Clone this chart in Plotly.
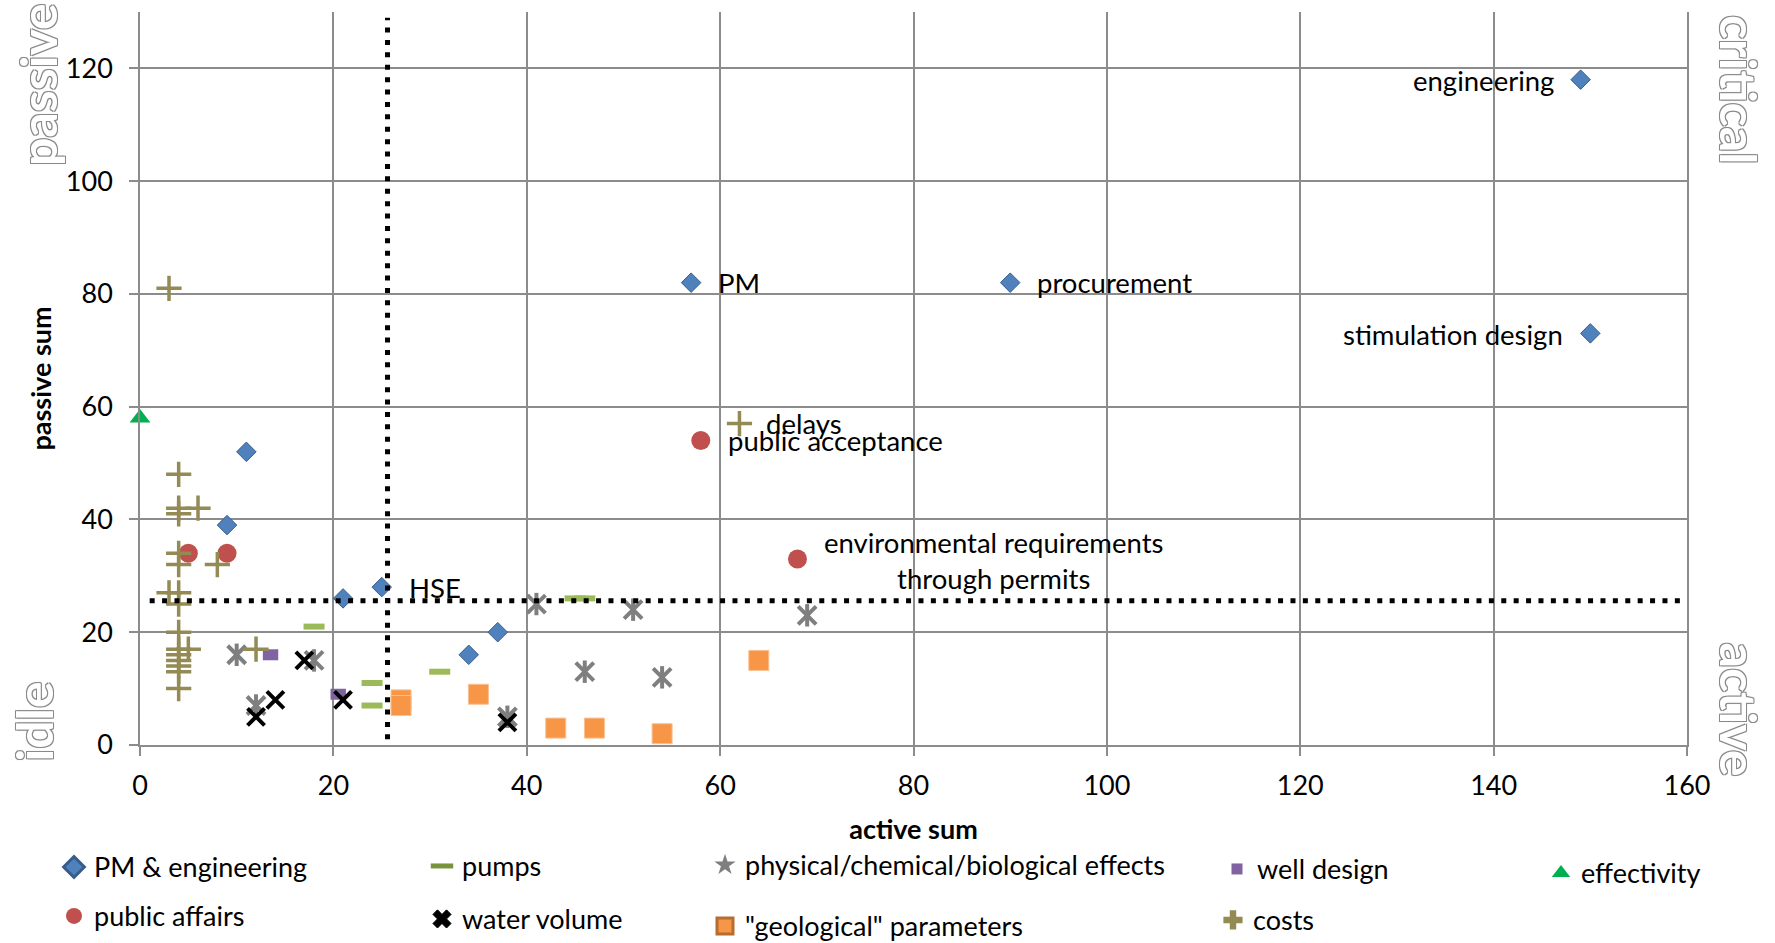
import plotly.graph_objects as go

# ---------------- data ----------------
threshold = 25.6  # quadrant border (active & passive)

pm_x = [149, 57, 90, 150, 11, 9, 21, 25, 34, 37]
pm_y = [118, 82, 82, 73, 52, 39, 26, 28, 16, 20]
pm_lab = ["engineering", "PM", "procurement", "stimulation design", "", "", "", "HSE", "", ""]

pa_x = [5, 9, 58, 68]
pa_y = [34, 34, 54, 33]
pa_lab = ["", "", "public acceptance", "environmental requirements<br>through permits"]

pumps_x = [18, 24, 24, 31, 45, 46]
pumps_y = [21, 11, 7, 13, 26, 26]

water_x = [12, 14, 17, 21, 38]
water_y = [5, 8, 15, 8, 4]

phys_x = [10, 18, 12, 41, 51, 69, 46, 54, 38]
phys_y = [16, 15, 7, 25, 24, 23, 13, 12, 5]

geo_x = [27, 27, 35, 43, 47, 54, 64]
geo_y = [8, 7, 9, 3, 3, 2, 15]

well_x = [13.5, 20.5]
well_y = [16, 9]

cost_x = [3, 62, 4, 4, 4, 6, 4, 4, 8, 3, 4, 4, 4, 4, 5, 4, 4, 4, 4, 12, 4]
cost_y = [81, 57, 48, 42, 41, 42, 34, 32, 32, 27, 27, 25, 20, 17, 17, 16, 15, 14, 13, 17, 10]
cost_lab = ["", "delays"] + [""] * 19

eff_x = [0]
eff_y = [58]

x_ticks = [0, 20, 40, 60, 80, 100, 120, 140, 160]
y_ticks = [0, 20, 40, 60, 80, 100, 120]

# ---------------- styling ----------------
FONT = "Lato"
BLUE, BLUE_D = "#4F81BD", "#385D8A"
RED = "#C0504D"
GREEN = "#9BBB59"
PURPLE = "#8064A2"
ORANGE = "#F79646"
GRAY = "#7F7F7F"
OLIVE = "#948A54"
EFF = "#00B050"
GRID = "#8c8c8c"

fig = go.Figure()

# chart traces
fig.add_trace(go.Scatter(x=pm_x, y=pm_y, mode="markers", showlegend=False, cliponaxis=False,
                         marker=dict(symbol="diamond", size=15, color=BLUE, line=dict(color=BLUE_D, width=1))))
fig.add_trace(go.Scatter(x=pa_x, y=pa_y, mode="markers", showlegend=False, cliponaxis=False,
                         marker=dict(symbol="circle", size=19, color=RED, line=dict(width=0))))
fig.add_trace(go.Scatter(x=pumps_x, y=pumps_y, mode="markers", showlegend=False, cliponaxis=False,
                         marker=dict(symbol="line-ew-open", size=15, color=GREEN, line=dict(color=GREEN, width=6))))
fig.add_trace(go.Scatter(x=well_x, y=well_y, mode="markers", showlegend=False, cliponaxis=False,
                         marker=dict(symbol="line-ew-open", size=11, color=PURPLE, line=dict(color=PURPLE, width=11))))
fig.add_trace(go.Scatter(x=geo_x, y=geo_y, mode="markers", showlegend=False, cliponaxis=False,
                         marker=dict(symbol="square", size=20, color=ORANGE, line=dict(color="#FAC090", width=1))))
# star marker: an X with a vertical bar through it
fig.add_trace(go.Scatter(x=phys_x, y=phys_y, mode="markers", showlegend=False, cliponaxis=False,
                         marker=dict(symbol="x-thin-open", size=18, color=GRAY, line=dict(color=GRAY, width=4))))
fig.add_trace(go.Scatter(x=phys_x, y=phys_y, mode="markers", showlegend=False, cliponaxis=False,
                         marker=dict(symbol="line-ns-open", size=16, color=GRAY, line=dict(color=GRAY, width=4))))
fig.add_trace(go.Scatter(x=water_x, y=water_y, mode="markers", showlegend=False, cliponaxis=False,
                         marker=dict(symbol="x-thin-open", size=17, color="black", line=dict(color="black", width=4))))
fig.add_trace(go.Scatter(x=cost_x, y=cost_y, mode="markers", showlegend=False, cliponaxis=False,
                         marker=dict(symbol="cross-thin-open", size=18, color=OLIVE, line=dict(color=OLIVE, width=3.5))))
fig.add_trace(go.Scatter(x=eff_x, y=eff_y, mode="markers", showlegend=False, cliponaxis=False,
                         marker=dict(symbol="triangle-up", size=18, color=EFF, line=dict(width=0))))

# legend-only entries
legend_items = [
    ("PM & engineering", dict(symbol="diamond", size=16, color=BLUE, line=dict(color=BLUE_D, width=3)), 94, 868),
    ("public affairs", dict(symbol="circle", size=16, color=RED, line=dict(width=0)), 94, 917),
    ("pumps", dict(symbol="line-ew-open", size=16, color="#77933C", line=dict(color="#77933C", width=5)), 462, 867),
    ("water volume", dict(symbol="x", size=16, color="black", line=dict(color="black", width=1)), 462, 920),
    ("physical/chemical/biological effects", dict(symbol="star", size=16, color=GRAY, line=dict(width=0)), 745, 866),
    ("\"geological\" parameters", dict(symbol="square", size=16, color=ORANGE, line=dict(color="#B66D31", width=3)), 745, 927),
    ("well design", dict(symbol="square", size=11, color=PURPLE, line=dict(width=0)), 1257, 870),
    ("costs", dict(symbol="cross", size=16, color=OLIVE, line=dict(width=0)), 1253, 921),
    ("effectivity", dict(symbol="triangle-up", size=16, color=EFF, line=dict(width=0)), 1581, 874),
]

L, R, T, B = 140, 88, 12, 197.5
W, H = 1775, 943
PW, PH = W - L - R, H - T - B

legends = {}
for i, (name, mk, tx, ty) in enumerate(legend_items):
    key = "legend" if i == 0 else f"legend{i+1}"
    fig.add_trace(go.Scatter(x=[None], y=[None], mode="markers", name=name, marker=mk,
                             legend=key, showlegend=True))
    legends[key] = dict(x=(tx - 40 - L) / PW, y=(H - B - ty) / PH, xanchor="left", yanchor="middle",
                        font=dict(family=FONT, size=27, color="black"), bgcolor="rgba(0,0,0,0)",
                        borderwidth=0)

# quadrant threshold lines
fig.add_shape(type="line", x0=1, x1=160, y0=threshold, y1=threshold, xref="x", yref="y",
              line=dict(color="black", width=5, dash="5px,7.4px"))
fig.add_shape(type="line", x0=threshold, x1=threshold, y0=1, y1=129, xref="x", yref="y",
              line=dict(color="black", width=5, dash="5px,7.4px"))

# point labels
lab_font = dict(family=FONT, size=27.5, color="black")
ann = []
def add_labels(xs, ys, labs):
    for x, y, t in zip(xs, ys, labs):
        if not t:
            continue
        if t in ("engineering", "stimulation design"):
            ann.append(dict(x=x, y=y, text=t, xref="x", yref="y", showarrow=False, xanchor="right",
                            xshift=-25, yshift=-1, font=lab_font))
        elif t.startswith("environmental"):
            ann.append(dict(x=x, y=y, text=t, xref="x", yref="y", showarrow=False, xanchor="left",
                            xshift=25, yshift=-2, align="center", font=lab_font))
        else:
            ys_ = 0
            ann.append(dict(x=x, y=y, text=t, xref="x", yref="y", showarrow=False, xanchor="left",
                            xshift=25, yshift=ys_, font=lab_font))

add_labels(pm_x, pm_y, pm_lab)
add_labels(pa_x, pa_y, pa_lab)
add_labels(cost_x, cost_y, cost_lab)

# quadrant names (outlined text)
quad_font = dict(family=FONT, size=50, color="white", weight="bold",
                 shadow="-1px -1px 0 #8a8a8a, 1px -1px 0 #8a8a8a, -1px 1px 0 #8a8a8a, 1px 1px 0 #8a8a8a, 0 0 2px #999")
for text, px, py, ang in [("passive", 38, 85, -90), ("idle", 34, 722, -90),
                          ("critical", 1739, 90, 90), ("active", 1739, 710, 90)]:
    ann.append(dict(x=(px - L) / PW, y=(H - B - py) / PH, xref="paper", yref="paper", text=text,
                    showarrow=False, textangle=ang, xanchor="center", yanchor="middle", font=quad_font))

fig.update_layout(
    width=W, height=H,
    margin=dict(l=L, r=R, t=T, b=B, autoexpand=False),
    paper_bgcolor="white", plot_bgcolor="white",
    font=dict(family=FONT, size=24, color="black"),
    annotations=ann,
    **legends,
)

axis_common = dict(showgrid=True, gridcolor=GRID, gridwidth=1.5, zeroline=False,
                   showline=True, linecolor=GRID, linewidth=1.5,
                   ticks="outside", ticklen=9, tickcolor=GRID, tickwidth=1.5,
                   tickfont=dict(family=FONT, size=27, color="black"))
fig.update_xaxes(range=[0, 160], tickvals=x_ticks, ticktext=[str(v) for v in x_ticks],
                 title=dict(text="<b>active sum</b>", font=dict(family=FONT, size=27), standoff=20),
                 ticklabelstandoff=7, **axis_common)
fig.update_yaxes(range=[0, 130], tickvals=y_ticks, ticktext=[str(v) for v in y_ticks], mirror=True,
                 title=dict(text="<b>passive sum</b>", font=dict(family=FONT, size=27), standoff=6),
                 ticklabelstandoff=11, **axis_common)

fig.write_html("out.html")
